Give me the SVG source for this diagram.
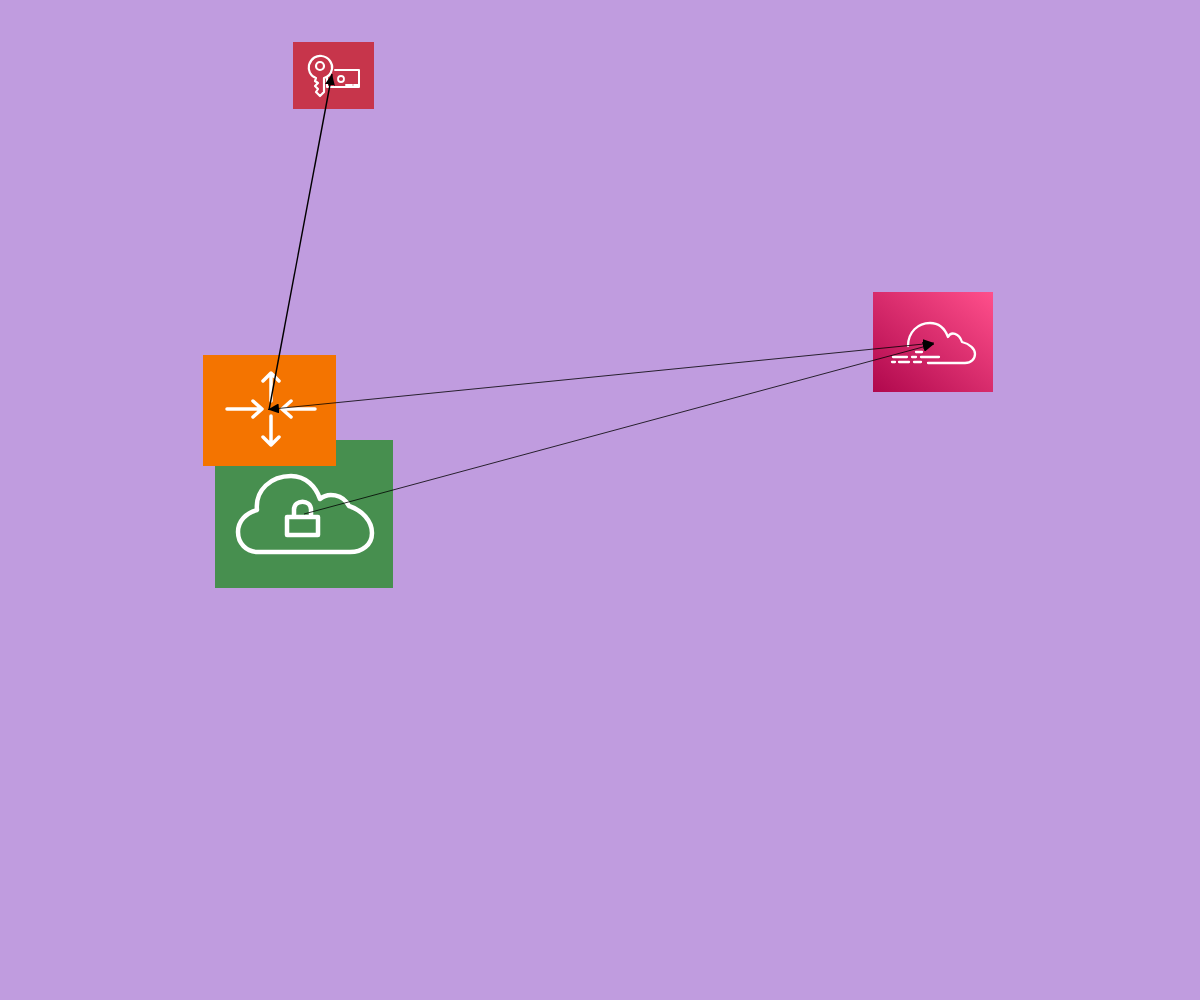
<svg xmlns="http://www.w3.org/2000/svg" width="1200" height="1000" viewBox="0 0 1200 1000">
<style>
.ic{fill:none;stroke:#fff;stroke-linecap:round;stroke-linejoin:round}
.c{fill:none;stroke:#000}
</style>
<defs>
<linearGradient id="pk" x1="0" y1="1" x2="1" y2="0"><stop offset="0" stop-color="#B0084D"/><stop offset="1" stop-color="#FF4F8B"/></linearGradient>
<marker id="ah" markerUnits="userSpaceOnUse" markerWidth="12" markerHeight="10" refX="11" refY="5" orient="auto-start-reverse"><path d="M0 0L11 5L0 10Z" fill="#000"/></marker>
</defs>
<rect width="1200" height="1000" fill="#C09CDF"/>
<g id="vpn">
<rect x="215" y="440" width="178" height="148" fill="#478F4F"/>
<path class="ic" stroke-width="4.500" d="M257 510C255 490 271 476 291 476C306 476 316 487 320 499C328 492 343 494 349 506C362 510 372 521 372 533C372 545 362 552 350 552H258C246 552 238 543 238 532C238 521 246 513 257 510Z"/>
<path class="ic" stroke-width="4.500" d="M287 517H318V535H287ZM294 516V510C294 499 311 499 311 510V516"/>
</g>
<g id="nat">
<rect x="203" y="355" width="133" height="111" fill="#F47400"/>
<path class="ic" stroke-width="3.500" d="M227 409H261M253 401L262 409L253 417M315 409H283M291 401L282 409L291 417M271 373V401M263 381L271 373L279 381M271 416V445M263 437L271 445L279 437"/>
</g>
<g id="iam">
<rect x="293" y="42" width="81" height="67" fill="#C7354B"/>
<path class="ic" stroke-width="2.200" d="M316 78C310 76 308 70 309 65C311 58 317 55 322 56C329 57 333 64 332 69C331 74 328 77 324 78V92L320 96L316 92L318 89L315 86L318 83L315 81Z"/>
<circle class="ic" stroke-width="2.200" cx="320" cy="66" r="4"/>
<path class="ic" stroke-width="2" d="M335 70H359V87H327V77M346 85H352M354 85H358"/>
<circle class="ic" stroke-width="1.800" cx="341" cy="79" r="3"/>
</g>
<g id="waf">
<rect x="873" y="292" width="120" height="100" fill="url(#pk)"/>
<path class="ic" stroke-width="2.300" d="M908 346C908 332 918 323 930 323C939 323 945 329 948 337C951 331 959 333 962 342C970 344 975 349 975 354C975 359 971 363 965 363H928"/>
<path class="ic" stroke-width="2.300" d="M916 352H922M893 357H907M912 357H916M921 357H939M892 362H895M899 362H909M914 362H921"/>
</g>
<g id="connectors">
<path class="c" stroke-width="1.400" marker-end="url(#ah)" d="M269 410L332 74"/>
<path class="c" stroke-width="0.800" marker-start="url(#ah)" marker-end="url(#ah)" d="M268 409.500L934 343"/>
<path class="c" stroke-width="0.800" marker-end="url(#ah)" d="M304 514L934 344"/>
</g>
</svg>
